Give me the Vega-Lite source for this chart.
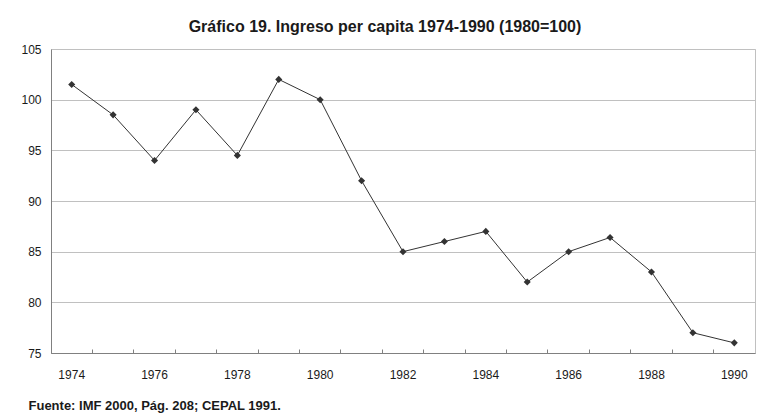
{
  "$schema": "https://vega.github.io/schema/vega-lite/v6.json",
  "autosize": {"type": "none"},
  "width": 704,
  "height": 304,
  "padding": {"left": 51, "top": 49, "right": 4, "bottom": 62},
  "background": "white",
  "title": {
    "text": "Gráfico 19. Ingreso per capita 1974-1990 (1980=100)",
    "font": "Liberation Sans",
    "fontSize": 16,
    "fontWeight": "bold",
    "color": "#1a1a1a",
    "anchor": "middle",
    "dx": -18,
    "baseline": "alphabetic",
    "offset": -5
  },
  "data": {
    "values": [
      {"year": 1974, "value": 101.5},
      {"year": 1975, "value": 98.5},
      {"year": 1976, "value": 94},
      {"year": 1977, "value": 99},
      {"year": 1978, "value": 94.5},
      {"year": 1979, "value": 102},
      {"year": 1980, "value": 100},
      {"year": 1981, "value": 92},
      {"year": 1982, "value": 85},
      {"year": 1983, "value": 86},
      {"year": 1984, "value": 87},
      {"year": 1985, "value": 82},
      {"year": 1986, "value": 85},
      {"year": 1987, "value": 86.4},
      {"year": 1988, "value": 83},
      {"year": 1989, "value": 77},
      {"year": 1990, "value": 76}
    ]
  },
  "encoding": {
    "x": {
      "field": "year",
      "type": "ordinal",
      "scale": {"type": "band", "paddingInner": 0, "paddingOuter": 0},
      "axis": {
        "title": "Fuente: IMF 2000, Pág. 208; CEPAL 1991.",
        "titleFont": "Liberation Sans",
        "titleFontSize": 13,
        "titleFontWeight": "bold",
        "titleColor": "#1a1a1a",
        "titleAnchor": "start",
        "titleAlign": "left",
        "titleBaseline": "alphabetic",
        "titleX": -23,
        "titleY": 56,
        "labelAngle": 0,
        "labelFont": "Liberation Sans",
        "labelFontSize": 12,
        "labelColor": "#1a1a1a",
        "labelPadding": 20,
        "labelExpr": "datum.value % 2 == 0 ? datum.label : ''",
        "bandPosition": 0,
        "tickSize": -4,
        "tickColor": "#808080",
        "domainColor": "#808080",
        "grid": false
      }
    },
    "y": {
      "field": "value",
      "type": "quantitative",
      "scale": {"domain": [75, 105], "nice": false, "zero": false},
      "axis": {
        "title": null,
        "values": [75, 80, 85, 90, 95, 100, 105],
        "labelFont": "Liberation Sans",
        "labelFontSize": 12,
        "labelColor": "#1a1a1a",
        "labelPadding": 10,
        "ticks": false,
        "domainColor": "#808080",
        "gridColor": "#c0c0c0",
        "gridWidth": 1
      }
    }
  },
  "layer": [
    {"mark": {"type": "line", "color": "#333333", "strokeWidth": 1}},
    {"mark": {"type": "point", "shape": "diamond", "filled": true, "color": "#333333", "size": 50, "opacity": 1}}
  ],
  "config": {
    "view": {"stroke": "#c0c0c0"}
  }
}
